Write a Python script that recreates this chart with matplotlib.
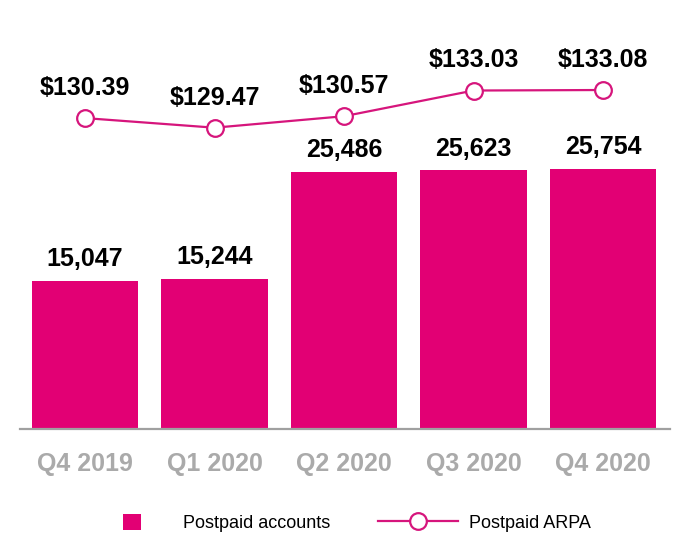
import matplotlib.pyplot as plt
from matplotlib.patches import Patch
from matplotlib.lines import Line2D

quarters = ['Q4 2019', 'Q1 2020', 'Q2 2020', 'Q3 2020', 'Q4 2020']
accounts = [15047, 15244, 25486, 25623, 25754]
arpa = [130.39, 129.47, 130.57, 133.03, 133.08]

magenta = '#E20074'
line_col = '#D6157C'
grey = '#AAAAAA'

plt.rcParams['font.family'] = ['Liberation Sans', 'DejaVu Sans']

fig = plt.figure(figsize=(6.9, 5.6), dpi=100)
ax = fig.add_axes([20 / 690, 131 / 560, 650 / 690, 408 / 560])
x = list(range(len(quarters)))

# bars
ax.bar(x, accounts, width=0.82, bottom=0, color=magenta, zorder=2)
for i, v in enumerate(accounts):
    ax.annotate(f'{v:,}', xy=(i, v), xytext=(0, 7), textcoords='offset points',
                ha='center', va='bottom', fontsize=18, fontweight='bold')
ax.set_xlim(-0.502, 4.517)
ax.set_ylim(880, 39930)
for s in ['top', 'right', 'left']:
    ax.spines[s].set_visible(False)
ax.spines['bottom'].set_color('#A0A0A0')
ax.spines['bottom'].set_linewidth(1.6)
ax.set_yticks([])
ax.set_xticks(x)
ax.set_xticklabels(quarters, fontsize=18, fontweight='bold', color=grey)
ax.tick_params(axis='x', length=0, pad=16.5)

# ARPA line
ax2 = ax.twinx()
ax2.plot(x, arpa, color=line_col, lw=1.6, marker='o', ms=12,
         mfc='white', mec=line_col, mew=1.6, zorder=3)
for i, v in enumerate(arpa):
    ax2.annotate(f'${v:.2f}', xy=(i, v), xytext=(0, 13), textcoords='offset points',
                 ha='center', va='bottom', fontsize=18, fontweight='bold')
ax2.set_ylim(100.61, 139.69)
ax2.set_yticks([])
for s in ax2.spines.values():
    s.set_visible(False)

# legend (two parts so the square and the line get their own sizes)
fig.legend([Patch(facecolor=magenta, edgecolor='none')], ['Postpaid accounts'],
           loc='center left', bbox_to_anchor=(123 / 690, 37 / 560), frameon=False,
           fontsize=13, handlelength=1.0, handleheight=1.0,
           handletextpad=2.33, borderpad=0, borderaxespad=0)
fig.legend([Line2D([], [], color=line_col, lw=1.6, marker='o', ms=12,
                   mfc='white', mec=line_col, mew=1.6)], ['Postpaid ARPA'],
           loc='center left', bbox_to_anchor=(378 / 690, 37 / 560), frameon=False,
           fontsize=13, handlelength=4.43, handletextpad=0.6,
           borderpad=0, borderaxespad=0)

fig.savefig('out.png', dpi=100)
